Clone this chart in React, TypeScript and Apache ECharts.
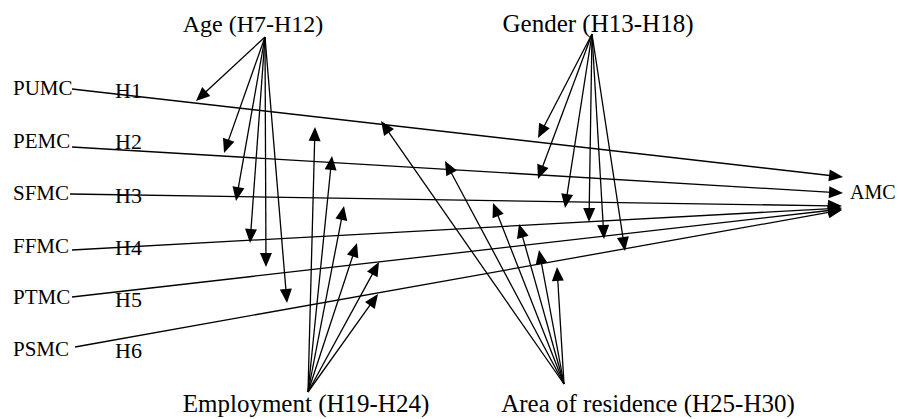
import React, { useEffect, useRef } from "react";
import * as echarts from "echarts";

// ---- Data (diagram node positions in page pixels) ----
const predictorNames = ["PUMC", "PEMC", "SFMC", "FFMC", "PTMC", "PSMC"];
const predictorLabelY = [88, 141, 193, 246, 297, 349];
const hypothesisNames = ["H1", "H2", "H3", "H4", "H5", "H6"];
const hypothesisLabelY = [90, 141, 195, 247, 299, 350];

const moderatorNames = [
  "Age (H7-H12)",
  "Gender (H13-H18)",
  "Employment (H19-H24)",
  "Area of residence (H25-H30)",
];
const moderatorCenterX = [253, 598, 306, 648];
const moderatorCenterY = [24, 23, 403, 403];

const outcomeName = "AMC";
const outcomeX = [850];
const outcomeY = [192];

// main paths: predictor -> AMC  [x1, y1, x2, y2]
const mainPaths = [
  [72, 89, 843, 177],
  [72, 147, 843, 193],
  [70, 194, 842, 206],
  [72, 250, 842, 208],
  [72, 297, 842, 209],
  [75, 347, 842, 210],
];

const ageOrigin = [265, 37];
const ageTargets = [
  [196, 101],
  [224, 153],
  [236, 201],
  [250, 243],
  [266, 267],
  [287, 303],
];

const genderOrigin = [592, 34];
const genderTargets = [
  [538, 138],
  [538, 179],
  [565, 208],
  [589, 222],
  [604, 239],
  [625, 251],
];

const employmentOrigin = [308, 392];
const employmentTargets = [
  [315, 127],
  [332, 156],
  [344, 206],
  [357, 243],
  [379, 262],
  [378, 294],
];

const residenceOrigin = [564, 384];
const residenceTargets = [
  [381, 121],
  [445, 161],
  [493, 203],
  [519, 224],
  [539, 250],
  [557, 267],
];

// ---- Styles ----
const FONT = "'Liberation Serif', 'Times New Roman', serif";
const predictorFontSize = 21;
const hypothesisFontSize = 22;
const moderatorFontSizes = [24, 25, 25, 25];
const outcomeFontSize = 20;
const predictorLabelX = 13;
const hypothesisLabelX = 115;

export default function App() {
  const ref = useRef<HTMLDivElement>(null);

  useEffect(() => {
    if (!ref.current) return;
    const chart = echarts.init(ref.current, undefined, { renderer: "svg" });

    const fan = (o: number[], ts: number[][]) => ts.map((t) => [o[0], o[1], t[0], t[1]]);
    const arrows = [
      ...mainPaths,
      ...fan(ageOrigin, ageTargets),
      ...fan(genderOrigin, genderTargets),
      ...fan(employmentOrigin, employmentTargets),
      ...fan(residenceOrigin, residenceTargets),
    ];

    type Lbl = { text: string; x: number; y: number; size: number; align: string };
    const labels: Lbl[] = [];
    predictorNames.forEach((n, i) =>
      labels.push({ text: n, x: predictorLabelX, y: predictorLabelY[i], size: predictorFontSize, align: "left" })
    );
    hypothesisNames.forEach((n, i) =>
      labels.push({ text: n, x: hypothesisLabelX, y: hypothesisLabelY[i], size: hypothesisFontSize, align: "left" })
    );
    moderatorNames.forEach((n, i) =>
      labels.push({ text: n, x: moderatorCenterX[i], y: moderatorCenterY[i], size: moderatorFontSizes[i], align: "center" })
    );
    labels.push({ text: outcomeName, x: outcomeX[0], y: outcomeY[0], size: outcomeFontSize, align: "left" });

    const HEAD_L = 14;
    const HEAD_W = 6;

    chart.setOption({
      animation: false,
      backgroundColor: "#ffffff",
      grid: { left: 0, right: 0, top: 0, bottom: 0, containLabel: false },
      xAxis: { type: "value", min: 0, max: 899, show: false },
      yAxis: { type: "value", min: 0, max: 419, inverse: true, show: false },
      series: [
        {
          type: "custom",
          clip: false,
          silent: true,
          data: arrows,
          encode: { x: [0, 2], y: [1, 3] },
          renderItem: (params: any, api: any) => {
            const p1 = api.coord([api.value(0), api.value(1)]);
            const p2 = api.coord([api.value(2), api.value(3)]);
            const dx = p2[0] - p1[0];
            const dy = p2[1] - p1[1];
            const len = Math.hypot(dx, dy);
            const ux = dx / len;
            const uy = dy / len;
            const bx = p2[0] - ux * HEAD_L;
            const by = p2[1] - uy * HEAD_L;
            return {
              type: "group",
              children: [
                {
                  type: "line",
                  shape: { x1: p1[0], y1: p1[1], x2: bx + ux * 3, y2: by + uy * 3 },
                  style: { stroke: "#000", lineWidth: 1.3 },
                },
                {
                  type: "polygon",
                  shape: {
                    points: [
                      [p2[0], p2[1]],
                      [bx - uy * HEAD_W, by + ux * HEAD_W],
                      [bx + uy * HEAD_W, by - ux * HEAD_W],
                    ],
                  },
                  style: { fill: "#000" },
                },
              ],
            };
          },
        },
        {
          type: "custom",
          clip: false,
          silent: true,
          data: labels.map((l) => [l.x, l.y]),
          renderItem: (params: any, api: any) => {
            const l = labels[params.dataIndex];
            const p = api.coord([api.value(0), api.value(1)]);
            return {
              type: "text",
              x: p[0],
              y: p[1],
              style: {
                text: l.text,
                fill: "#000",
                font: `${l.size}px ${FONT}`,
                align: l.align,
                verticalAlign: "middle",
              },
            };
          },
        },
      ],
    });

    return () => chart.dispose();
  }, []);

  return (
    <div
      ref={ref}
      style={{ position: "fixed", left: 0, top: 0, width: 899, height: 419, background: "#fff" }}
    />
  );
}
